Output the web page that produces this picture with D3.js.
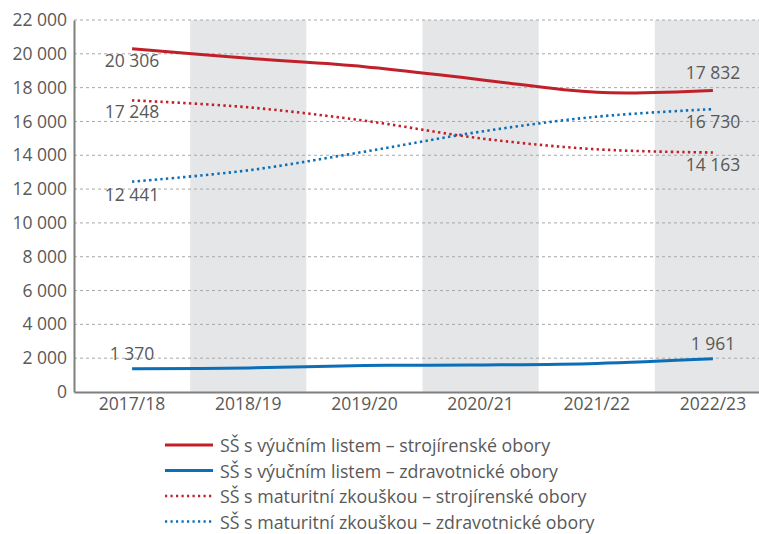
<!DOCTYPE html>
<html><head><meta charset="utf-8">
<script src="https://cdn.jsdelivr.net/npm/d3@7"></script>
<style>
body{margin:0;background:#fff;}
text{font-family:"Open Sans","Noto Sans",sans-serif;fill:#595959;}
</style></head>
<body><svg id="c" width="759" height="534"></svg>
<script>
const categories = ["2017/18","2018/19","2019/20","2020/21","2021/22","2022/23"];
const seriesNames = [
  "SŠ s výučním listem – strojírenské obory",
  "SŠ s výučním listem – zdravotnické obory",
  "SŠ s maturitní zkouškou – strojírenské obory",
  "SŠ s maturitní zkouškou – zdravotnické obory"
];
const vlStroj = [20306, 19735, 19240, 18470, 17722, 17832];
const vlZdrav = [1370, 1420, 1570, 1600, 1690, 1961];
const mzStroj = [17248, 16836, 16045, 15000, 14352, 14163];
const mzZdrav = [12441, 13110, 14213, 15395, 16282, 16730];
const yTicks = [0,2000,4000,6000,8000,10000,12000,14000,16000,18000,20000,22000];
const shadedCats = ["2018/19","2020/21","2022/23"];

const colors = ["#c1202b","#0b6fb8","#c1202b","#0b6fb8"];
const dotted = [false,false,true,true];
const series = [vlStroj, vlZdrav, mzStroj, mzZdrav];
const labelDy = [[11,-18],[-16,-16],[11,11],[12,12]];

const svg = d3.select("#c");
const L = 74, R = 771, T = 20, B = 392;
const x = d3.scaleBand().domain(categories).range([L, R]);
const y = d3.scaleLinear().domain([0, 22000]).range([B, T]);
const cx = c => x(c) + x.bandwidth()/2;
const fmt = v => d3.format(",")(v).replace(/,/g, " ");

svg.append("g").selectAll("rect").data(shadedCats).join("rect")
  .attr("x", d => x(d)).attr("y", T).attr("width", x.bandwidth()).attr("height", B - T)
  .attr("fill", "#e5e6e8");

svg.append("g").selectAll("line").data(yTicks.filter(d => d > 0)).join("line")
  .attr("x1", L).attr("x2", 759).attr("y1", d => y(d)).attr("y2", d => y(d))
  .attr("stroke", "#a8a8a8").attr("stroke-width", 1).attr("stroke-dasharray", "3,3");

const ya = svg.append("g").attr("transform", `translate(${L},0)`)
  .call(d3.axisLeft(y).tickValues(yTicks).tickFormat(fmt).tickSize(0).tickPadding(7));
ya.select(".domain").attr("stroke", "#7f7f7f").attr("stroke-width", 2);
ya.selectAll("text").attr("font-size", 17.5).attr("fill", "#595959")
  .style("font-family", '"Open Sans","Noto Sans",sans-serif');

const xa = svg.append("g").attr("transform", `translate(0,${B})`)
  .call(d3.axisBottom(x).tickSize(0).tickPadding(6));
xa.select(".domain").attr("stroke", "#7f7f7f").attr("stroke-width", 2);
xa.selectAll("text").attr("font-size", 17.5).attr("fill", "#595959")
  .style("font-family", '"Open Sans","Noto Sans",sans-serif');

const line = d3.line().x((d,i) => cx(categories[i])).y(d => y(d)).curve(d3.curveCatmullRom.alpha(0.5));
series.forEach((s, k) => {
  svg.append("path").datum(s).attr("d", line).attr("fill", "none")
    .attr("stroke", colors[k])
    .attr("stroke-width", dotted[k] ? 2.6 : 3)
    .attr("stroke-dasharray", dotted[k] ? "2.4,3.3" : null);
});

series.forEach((s, k) => {
  [0, s.length - 1].forEach((i, j) => {
    svg.append("text")
      .attr("x", cx(categories[i])).attr("y", y(s[i]) + labelDy[k][j])
      .attr("text-anchor", "middle").attr("dominant-baseline", "central")
      .attr("font-size", 17.5).text(fmt(s[i]));
  });
});

const lg = svg.append("g");
seriesNames.forEach((n, k) => {
  const yy = 445 + k * 25.5;
  lg.append("line").attr("x1", 165).attr("x2", 213).attr("y1", yy).attr("y2", yy)
    .attr("stroke", colors[k]).attr("stroke-width", dotted[k] ? 2.4 : 3)
    .attr("stroke-dasharray", dotted[k] ? "2.2,3.3" : null);
  lg.append("text").attr("x", 220).attr("y", yy).attr("dominant-baseline", "central")
    .attr("font-size", 17.8).text(n);
});
</script></body></html>
